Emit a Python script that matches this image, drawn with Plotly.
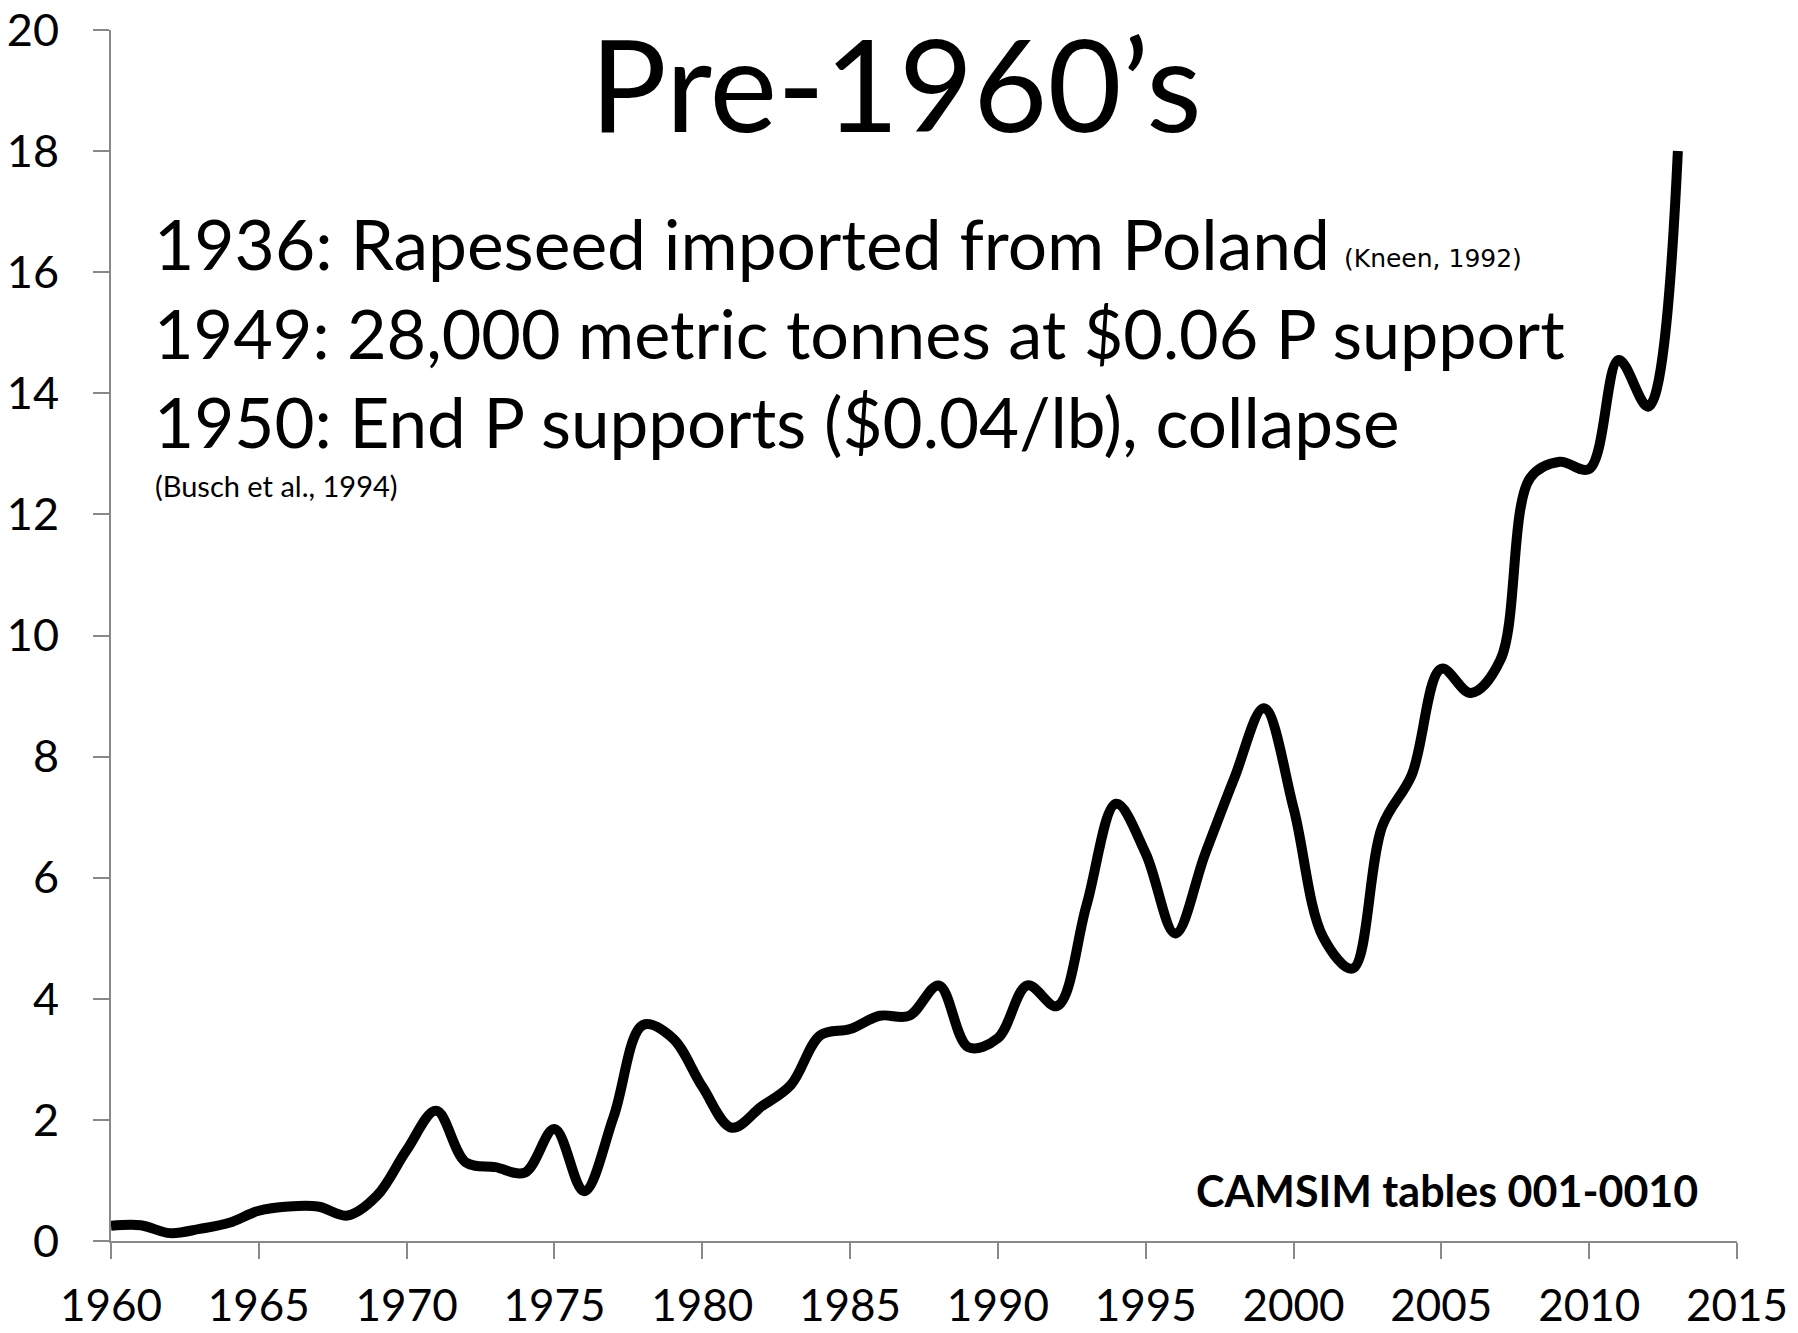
import plotly.graph_objects as go

years = list(range(1960, 2014))
values = [0.25, 0.26, 0.13, 0.20, 0.30, 0.50, 0.57, 0.57, 0.42, 0.75,
          1.50, 2.15, 1.30, 1.22, 1.13, 1.85, 0.82, 2.05, 3.57, 3.35,
          2.55, 1.87, 2.22, 2.58, 3.40, 3.50, 3.72, 3.72, 4.22, 3.20,
          3.35, 4.22, 3.88, 5.55, 7.22, 6.40, 5.08, 6.38, 7.65, 8.80,
          7.15, 5.02, 4.50, 6.85, 7.70, 9.45, 9.05, 9.60, 12.60, 12.87,
          12.75, 14.55, 13.78, 18.00]

x_ticks = list(range(1960, 2016, 5))
y_ticks = list(range(0, 21, 2))

title_text = "Pre-1960’s"
notes = ["1936: Rapeseed imported from Poland",
         "1949: 28,000 metric tonnes at $0.06 P support",
         "1950: End P supports ($0.04/lb), collapse"]
ref1 = "(Kneen, 1992)"
ref2 = "(Busch et al., 1994)"
source = "CAMSIM tables 001-0010"

W, H = 1798, 1333
L, R, T, B = 111, 61, 30, 92
pw, ph = W - L - R, H - T - B


def px(xp):
    return (xp - L) / pw


def py(yp):
    return (H - B - yp) / ph


AX = '#898989'
fig = go.Figure()
fig.add_trace(go.Scatter(x=years, y=values, mode='lines',
                         line=dict(color='black', width=10, shape='spline', smoothing=1),
                         showlegend=False, hoverinfo='skip'))

axis_common = dict(showline=True, linecolor=AX, linewidth=2, ticks='outside',
                   ticklen=16, tickwidth=2, tickcolor=AX, showgrid=False,
                   zeroline=False, automargin=False)

fig.update_xaxes(range=[1960, 2015], tickvals=x_ticks, ticklabelstandoff=9,
                 tickfont=dict(family='Lato', size=44, color='black'), **axis_common)
fig.update_yaxes(range=[0, 20], tickvals=y_ticks, ticklabelstandoff=25,
                 tickfont=dict(family='Lato', size=45, color='black'), **axis_common)

anns = []
anns.append(dict(text=title_text, x=px(896), y=py(82), xanchor='center', yanchor='middle',
                 font=dict(family='Lato', size=128, color='black')))
note_sizes = [69.5, 68.3, 69.2]
for i, t in enumerate(notes):
    base = 267 + i * 89.5
    anns.append(dict(text=t, x=px(152), y=py(base - 24), xanchor='left', yanchor='middle',
                     font=dict(family='Lato', size=note_sizes[i], color='black')))
anns.append(dict(text=ref1, x=px(1342), y=py(267 - 9), xanchor='left', yanchor='middle',
                 font=dict(family='DejaVu Sans', size=25, color='black')))
anns.append(dict(text=ref2, x=px(153), y=py(497 - 12), xanchor='left', yanchor='middle',
                 font=dict(family='Lato', size=29, color='black')))
anns.append(dict(text='<b>' + source + '</b>', x=px(1700), y=py(1207 - 17), xanchor='right',
                 yanchor='middle', font=dict(family='Lato', size=43, color='black')))
for a in anns:
    a.update(xref='paper', yref='paper', showarrow=False)

fig.update_layout(width=W, height=H, margin=dict(l=L, r=R, t=T, b=B, autoexpand=False),
                  paper_bgcolor='white', plot_bgcolor='white', annotations=anns)

fig.write_html("out.html", config={'displayModeBar': False},
               post_script="document.body.style.margin='0';")
